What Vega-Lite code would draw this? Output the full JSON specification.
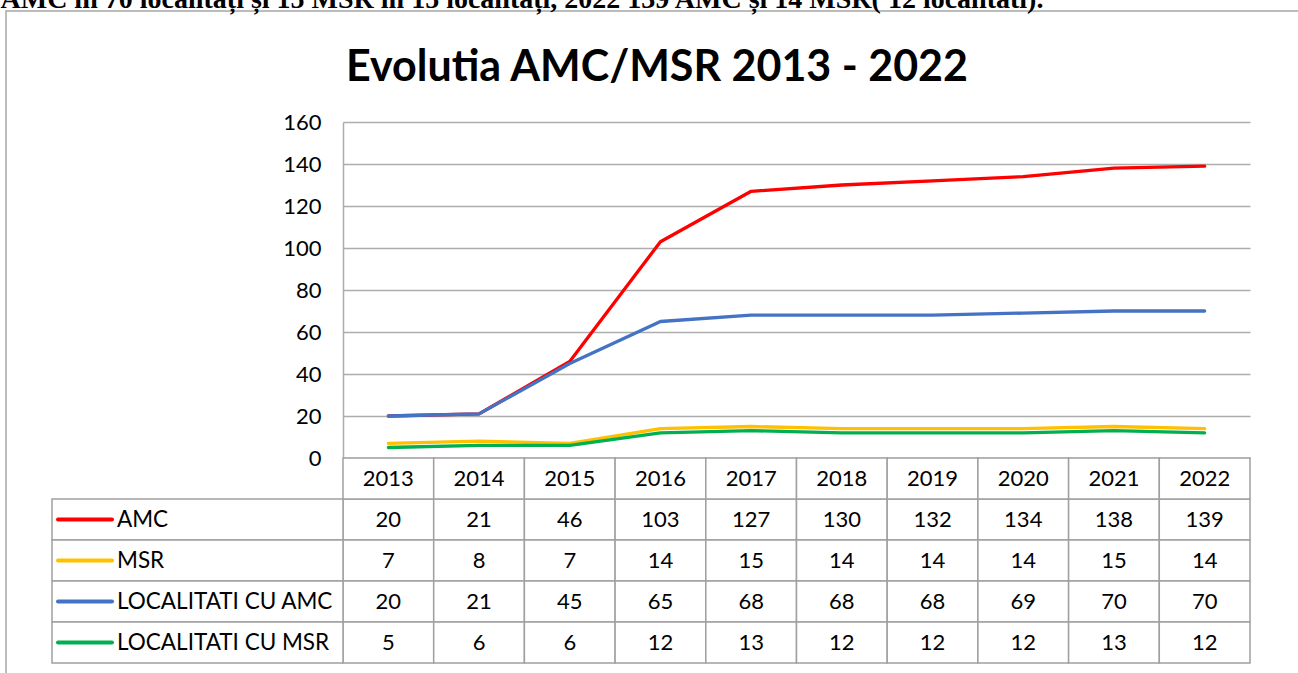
{
  "$schema": "https://vega.github.io/schema/vega-lite/v6.json",
  "width": 1294,
  "height": 664,
  "autosize": {"type": "none"},
  "padding": {"left": 6, "top": 11, "right": -2, "bottom": -2},
  "background": "white",
  "config": {"view": {"stroke": "#A6A6A6", "strokeWidth": 1.5}, "font": "Lato"},
  "title": {"text": "Evolutia AMC/MSR 2013 - 2022", "anchor": "middle", "frame": "group", "font": "Lato", "fontSize": 43, "fontWeight": "bold", "color": "#000000", "baseline": "alphabetic", "offset": -139, "dx": 4},
  "datasets": {
    "main": [
      {"year": 2013, "series": "AMC", "value": 20},
      {"year": 2014, "series": "AMC", "value": 21},
      {"year": 2015, "series": "AMC", "value": 46},
      {"year": 2016, "series": "AMC", "value": 103},
      {"year": 2017, "series": "AMC", "value": 127},
      {"year": 2018, "series": "AMC", "value": 130},
      {"year": 2019, "series": "AMC", "value": 132},
      {"year": 2020, "series": "AMC", "value": 134},
      {"year": 2021, "series": "AMC", "value": 138},
      {"year": 2022, "series": "AMC", "value": 139},
      {"year": 2013, "series": "MSR", "value": 7},
      {"year": 2014, "series": "MSR", "value": 8},
      {"year": 2015, "series": "MSR", "value": 7},
      {"year": 2016, "series": "MSR", "value": 14},
      {"year": 2017, "series": "MSR", "value": 15},
      {"year": 2018, "series": "MSR", "value": 14},
      {"year": 2019, "series": "MSR", "value": 14},
      {"year": 2020, "series": "MSR", "value": 14},
      {"year": 2021, "series": "MSR", "value": 15},
      {"year": 2022, "series": "MSR", "value": 14},
      {"year": 2013, "series": "LOCALITATI CU AMC", "value": 20},
      {"year": 2014, "series": "LOCALITATI CU AMC", "value": 21},
      {"year": 2015, "series": "LOCALITATI CU AMC", "value": 45},
      {"year": 2016, "series": "LOCALITATI CU AMC", "value": 65},
      {"year": 2017, "series": "LOCALITATI CU AMC", "value": 68},
      {"year": 2018, "series": "LOCALITATI CU AMC", "value": 68},
      {"year": 2019, "series": "LOCALITATI CU AMC", "value": 68},
      {"year": 2020, "series": "LOCALITATI CU AMC", "value": 69},
      {"year": 2021, "series": "LOCALITATI CU AMC", "value": 70},
      {"year": 2022, "series": "LOCALITATI CU AMC", "value": 70},
      {"year": 2013, "series": "LOCALITATI CU MSR", "value": 5},
      {"year": 2014, "series": "LOCALITATI CU MSR", "value": 6},
      {"year": 2015, "series": "LOCALITATI CU MSR", "value": 6},
      {"year": 2016, "series": "LOCALITATI CU MSR", "value": 12},
      {"year": 2017, "series": "LOCALITATI CU MSR", "value": 13},
      {"year": 2018, "series": "LOCALITATI CU MSR", "value": 12},
      {"year": 2019, "series": "LOCALITATI CU MSR", "value": 12},
      {"year": 2020, "series": "LOCALITATI CU MSR", "value": 12},
      {"year": 2021, "series": "LOCALITATI CU MSR", "value": 13},
      {"year": 2022, "series": "LOCALITATI CU MSR", "value": 12}
    ]
  },
  "data": {"name": "main"},
  "resolve": {"scale": {"x": "independent", "y": "independent"}, "axis": {"x": "independent", "y": "independent"}},
  "layer": [
    {
      "mark": {"type": "line", "strokeWidth": 3.3, "strokeCap": "round", "strokeJoin": "round"},
      "encoding": {
        "x": {"field": "year", "type": "ordinal", "bandPosition": 0.5, "scale": {"type": "band", "domain": [2013, 2014, 2015, 2016, 2017, 2018, 2019, 2020, 2021, 2022], "range": [337, 1244], "paddingInner": 0, "paddingOuter": 0}, "axis": null},
        "y": {"field": "value", "type": "quantitative", "scale": {"domain": [0, 160], "range": [447, 111], "nice": false, "zero": false},
          "axis": {"orient": "left", "offset": -337, "values": [0, 20, 40, 60, 80, 100, 120, 140, 160], "grid": true, "gridColor": "#ADADAD", "gridWidth": 1.5, "domain": true, "domainColor": "#ADADAD", "domainWidth": 1.5, "ticks": false, "labelFont": "Lato", "labelFontSize": 22, "labelColor": "#000000", "labelPadding": 22, "title": null}},
        "color": {"field": "series", "type": "nominal", "scale": {"domain": ["AMC", "MSR", "LOCALITATI CU AMC", "LOCALITATI CU MSR"], "range": ["#FF0000", "#FFC000", "#4472C4", "#00B050"]}, "legend": null}
      }
    },
    {
      "layer": [
        {
          "mark": {"type": "rect", "fill": "white", "stroke": "#A0A0A0", "strokeWidth": 1.5},
          "encoding": {
            "x": {"field": "year", "type": "ordinal", "scale": {"type": "band", "domain": [2013, 2014, 2015, 2016, 2017, 2018, 2019, 2020, 2021, 2022], "range": [337, 1244], "paddingInner": 0, "paddingOuter": 0}, "axis": null},
            "y": {"field": "series", "type": "nominal", "scale": {"type": "band", "domain": ["header", "AMC", "MSR", "LOCALITATI CU AMC", "LOCALITATI CU MSR"], "range": [447, 652], "paddingInner": 0, "paddingOuter": 0}, "axis": null}
          }
        },
        {
          "transform": [{"filter": "datum.series === 'AMC'"}],
          "mark": {"type": "rect", "fill": "white", "stroke": "#A0A0A0", "strokeWidth": 1.5},
          "encoding": {
            "x": {"field": "year", "type": "ordinal"},
            "y": {"datum": "header", "type": "nominal"}
          }
        },
        {
          "mark": {"type": "text", "font": "Lato", "fontSize": 22, "color": "#000000"},
          "encoding": {
            "x": {"field": "year", "type": "ordinal", "bandPosition": 0.5},
            "y": {"field": "series", "type": "nominal", "bandPosition": 0.5},
            "text": {"field": "value", "type": "quantitative"}
          }
        },
        {
          "transform": [{"filter": "datum.series === 'AMC'"}],
          "mark": {"type": "text", "font": "Lato", "fontSize": 22, "color": "#000000"},
          "encoding": {
            "x": {"field": "year", "type": "ordinal", "bandPosition": 0.5},
            "y": {"datum": "header", "type": "nominal", "bandPosition": 0.5},
            "text": {"field": "year", "type": "nominal"}
          }
        }
      ]
    },
    {
      "transform": [{"filter": "datum.year === 2013"}],
      "layer": [
        {
          "mark": {"type": "rect", "fill": "white", "stroke": "#A0A0A0", "strokeWidth": 1.5},
          "encoding": {
            "x": {"datum": 46, "type": "quantitative", "scale": {"domain": [0, 1292], "range": [0, 1292], "nice": false, "zero": false},
              "axis": {"orient": "top", "labels": false, "ticks": false, "domain": false, "grid": false, "title": "AMC în 70 localități și 15 MSR în 15 localități, 2022 139 AMC și 14 MSR( 12 localitati).", "titleFont": "Liberation Serif", "titleFontSize": 28, "titleFontWeight": "bold", "titleColor": "#000000", "titleAnchor": "start", "titleAlign": "left", "titleBaseline": "alphabetic", "titleX": -6, "titleY": -4}},
            "x2": {"datum": 337},
            "y": {"field": "series", "type": "nominal", "scale": {"type": "band", "domain": ["header", "AMC", "MSR", "LOCALITATI CU AMC", "LOCALITATI CU MSR"], "range": [447, 652], "paddingInner": 0, "paddingOuter": 0}, "axis": null}
          }
        },
        {
          "mark": {"type": "rule", "strokeWidth": 4, "strokeCap": "round"},
          "encoding": {
            "x": {"datum": 52, "type": "quantitative"},
            "x2": {"datum": 106},
            "y": {"field": "series", "type": "nominal", "bandPosition": 0.5},
            "color": {"field": "series", "type": "nominal", "legend": null}
          }
        },
        {
          "mark": {"type": "text", "align": "left", "font": "Lato", "fontSize": 22.5, "color": "#000000"},
          "encoding": {
            "x": {"datum": 111, "type": "quantitative"},
            "y": {"field": "series", "type": "nominal", "bandPosition": 0.5},
            "text": {"field": "series", "type": "nominal"}
          }
        }
      ]
    }
  ]
}
